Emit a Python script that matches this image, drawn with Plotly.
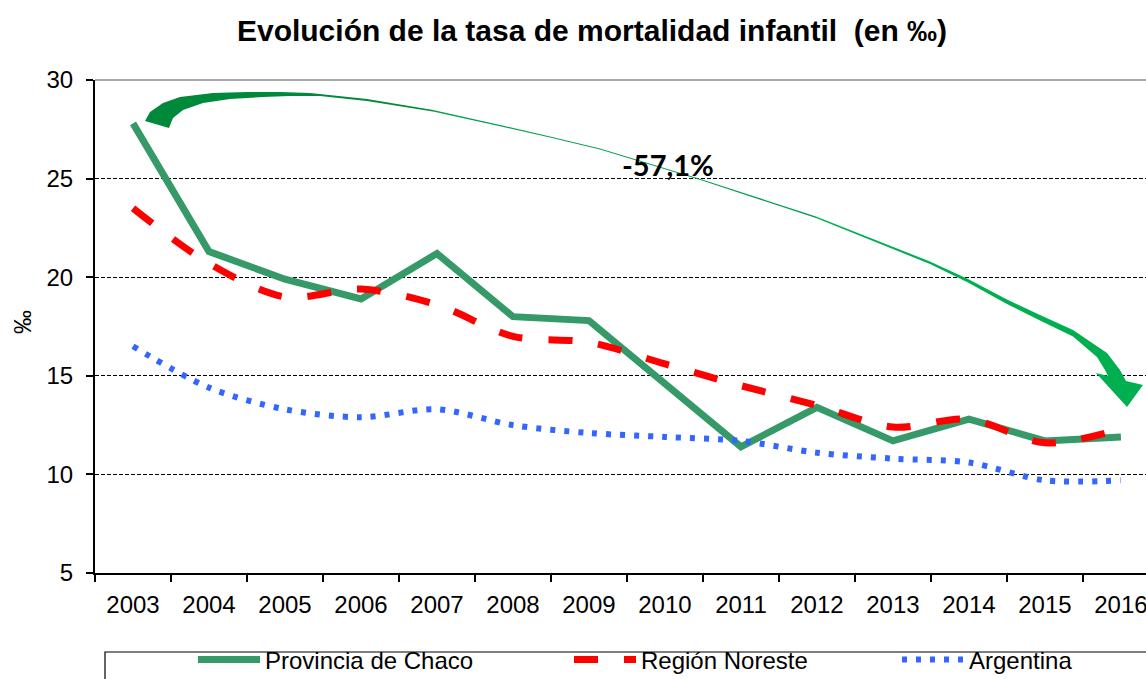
import plotly.graph_objects as go

years = ["2003", "2004", "2005", "2006", "2007", "2008", "2009",
         "2010", "2011", "2012", "2013", "2014", "2015", "2016"]
chaco = [27.8, 21.3, 19.9, 18.9, 21.2, 18.0, 17.8, 14.6, 11.4, 13.4, 11.7, 12.8, 11.7, 11.9]
noreste = [23.5, 20.7, 19.0, 19.4, 18.6, 17.0, 16.7, 15.6, 14.5, 13.5, 12.4, 12.8, 11.6, 12.3]
argentina = [16.5, 14.4, 13.3, 12.9, 13.3, 12.5, 12.1, 11.9, 11.7, 11.1, 10.8, 10.6, 9.7, 9.7]

FONT = "Liberation Sans, Arial, sans-serif"
FIG_W, FIG_H = 1146, 679
L, T, PW, PH = 95, 80, 1051, 493

fig = go.Figure()
fig.add_trace(go.Scatter(x=years, y=chaco, mode="lines", name="Provincia de Chaco",
                         line=dict(color="#359A68", width=7), legend="legend"))
fig.add_trace(go.Scatter(x=years, y=noreste, mode="lines", name="Región Noreste",
                         line=dict(color="#FF0000", width=7, dash="24px,26px",
                                   shape="spline", smoothing=0.9), legend="legend2"))
fig.add_trace(go.Scatter(x=years, y=argentina, mode="lines", name="Argentina",
                         line=dict(color="#3366FF", width=6, dash="5px,9px",
                                   shape="spline", smoothing=0.9), legend="legend3"))


def pp(x, y):
    return (x - L) / PW, (T + PH - y) / PH


# curved decreasing arrow (decoration), outline in pixel positions
pairs = [
    ((145, 121), (169, 128)), ((150, 112), (173, 118)), ((163, 103), (183, 110)),
    ((180, 97), (203, 103)), ((213, 93), (230, 99)), ((247, 92), (263, 97)),
    ((280, 92), (290, 96)), ((310, 93), (320, 96)), ((367, 99), (367, 101)),
    ((433, 110), (433, 111.5)), ((500, 125), (500, 126.2)), ((550, 136.5), (550, 137.5)),
    ((600, 148.5), (600, 149.5)), ((702, 179.5), (702, 180.5)), ((816, 216.5), (816, 218)),
    ((930, 261.5), (930, 264)), ((968, 279), (968, 282.5)), ((1006, 299), (1006, 303.5)),
    ((1040, 315), (1040, 320.5)), ((1073, 330), (1073, 336.5)), ((1107, 353), (1097, 357)),
    ((1120, 370), (1105, 370)), ((1126, 381), (1108, 376)),
]
head = [(1143, 385), (1127, 407), (1096, 373)]


def poly(points):
    s = ""
    for k, (x, y) in enumerate(points):
        a, b = pp(x, y)
        s += ("M" if k == 0 else "L") + f"{a:.5f},{b:.5f} "
    return s + "Z"


segments = [(0, 9, "#00883B"), (9, 14, "#00A04A"), (14, len(pairs) - 1, "#00B050")]
shapes = []
for i0, i1, col in segments:
    up = [p[0] for p in pairs[i0:i1 + 1]]
    lo = [p[1] for p in pairs[i0:i1 + 1]]
    pts = up + (head if i1 == len(pairs) - 1 else []) + lo[::-1]
    shapes.append(dict(type="path", xref="paper", yref="paper", path=poly(pts),
                       fillcolor=col, line=dict(width=0), layer="above"))

# top border of plot area
shapes.append(dict(type="line", xref="paper", yref="paper", x0=0, x1=1, y0=1, y1=1,
                   line=dict(color="#8C8C8C", width=1.5)))
# legend frame
lx0, ly0 = pp(105, 652)
lx1, ly1 = pp(1170, 700)
shapes.append(dict(type="rect", xref="paper", yref="paper", x0=lx0, x1=lx1, y0=ly0, y1=ly1,
                   line=dict(color="black", width=1.2)))

ax, ay = pp(668, 164)
yx, yy = pp(22, 322)
annotations = [
    dict(text="<b>-57,1%</b>", x=ax, y=ay, xref="paper", yref="paper", showarrow=False,
         xanchor="center", yanchor="middle", font=dict(family="Lato, Carlito, sans-serif", size=29, color="black")),
    dict(text="‰", x=yx, y=yy, xref="paper", yref="paper", showarrow=False, textangle=-90,
         xanchor="center", yanchor="middle", font=dict(family=FONT, size=24, color="black")),
]

leg_y = (T + PH - 660) / PH
def leg(px):
    return dict(x=(px - L) / PW, y=leg_y, xanchor="left", yanchor="middle",
                orientation="h", bgcolor="rgba(0,0,0,0)", itemwidth=62,
                font=dict(family=FONT, size=24, color="black"))

fig.update_layout(
    width=FIG_W, height=FIG_H, showlegend=True,
    margin=dict(l=L, r=FIG_W - L - PW, t=T, b=FIG_H - T - PH, autoexpand=False),
    paper_bgcolor="white", plot_bgcolor="white",
    font=dict(family=FONT, size=24, color="black"),
    title=dict(text="<b>Evolución de la tasa de mortalidad infantil \u00a0(en ‰)</b>",
               x=592 / FIG_W, xref="container", xanchor="center",
               y=1 - 30 / FIG_H, yref="container", yanchor="middle",
               font=dict(family=FONT, size=30, color="black")),
    xaxis=dict(type="category", range=[-0.5, 13.33], tickson="boundaries",
               ticks="outside", ticklen=7, tickwidth=1.5, tickcolor="black",
               showline=True, linecolor="black", linewidth=2, showgrid=False,
               tickfont=dict(family=FONT, size=24), ticklabelstandoff=9),
    yaxis=dict(range=[5, 30], tick0=5, dtick=5, ticks="outside", ticklen=7, tickwidth=1.5,
               tickcolor="black", showline=True, linecolor="black", linewidth=2,
               showgrid=True, gridcolor="black", gridwidth=1, griddash="4px,2px",
               zeroline=False, tickfont=dict(family=FONT, size=24), ticklabelstandoff=8),
    legend=leg(193), legend2=leg(569), legend3=leg(897),
    shapes=shapes, annotations=annotations,
)

fig.write_html("out.html", config={"displayModeBar": False},
               post_script="document.body.style.margin='0';document.body.style.overflow='hidden';")
